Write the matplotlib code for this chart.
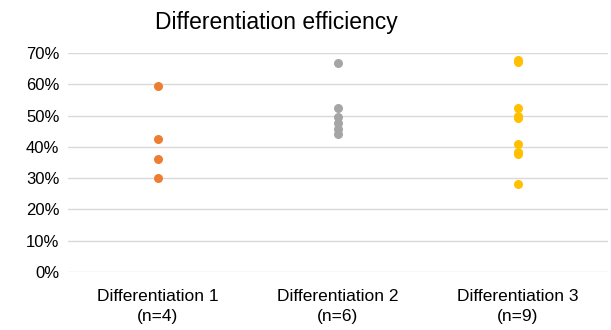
import matplotlib.pyplot as plt
from matplotlib.ticker import PercentFormatter

plt.rcParams['font.family'] = ['Liberation Sans', 'DejaVu Sans']

categories = ['Differentiation 1\n(n=4)', 'Differentiation 2\n(n=6)', 'Differentiation 3\n(n=9)']
diff1 = [59.5, 42.5, 36.2, 30.2]
diff2 = [67.0, 52.3, 49.5, 47.5, 45.8, 44.0]
diff3 = [67.8, 67.2, 52.6, 50.0, 49.2, 40.8, 38.4, 37.8, 28.2]
colors = ['#ED7D31', '#A5A5A5', '#FFC000']

fig = plt.figure(figsize=(6.11, 3.30), dpi=100)
ax = fig.add_axes([0.111, 0.176, 0.884, 0.663])

for i, (vals, c) in enumerate(zip([diff1, diff2, diff3], colors)):
    ax.scatter([i + 1] * len(vals), vals, s=42, color=c, zorder=3, linewidths=0)

ax.set_xlim(0.5, 3.5)
ax.set_ylim(0, 70)
ax.set_yticks(range(0, 71, 10))
ax.yaxis.set_major_formatter(PercentFormatter(decimals=0))
ax.set_xticks([1, 2, 3])
ax.set_xticklabels(categories, fontsize=12.5, color='#000000', linespacing=1.45)
ax.tick_params(axis='y', labelsize=12, length=0, pad=6)
ax.tick_params(axis='x', length=0, pad=12)
ax.grid(axis='y', color='#D9D9D9', linewidth=1)
for s in ax.spines.values():
    s.set_visible(False)
ax.set_axisbelow(True)
fig.text(0.453, 0.933, 'Differentiation efficiency', fontsize=16.5, ha='center', va='center')

fig.savefig('out.png', dpi=100)
